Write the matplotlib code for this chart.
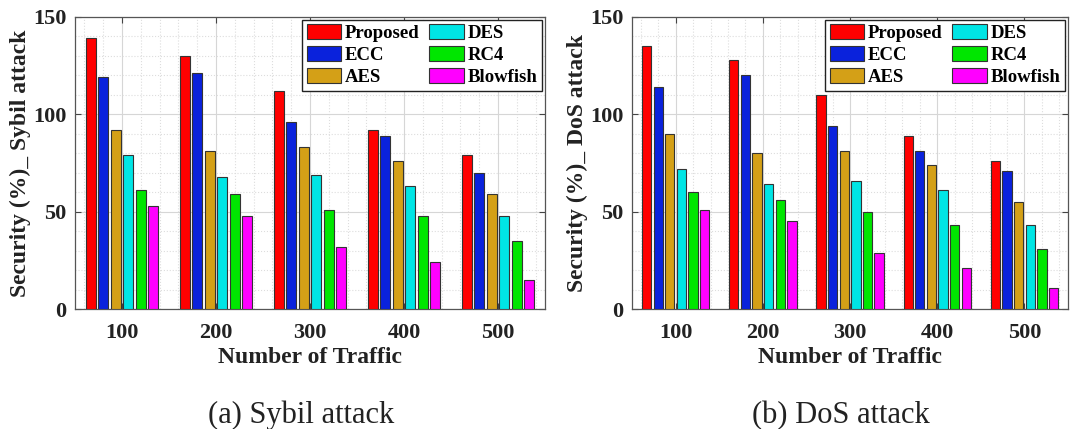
import numpy as np
import matplotlib
matplotlib.use('Agg')
import matplotlib.pyplot as plt
from matplotlib.ticker import MultipleLocator

plt.rcParams['font.family'] = ['Liberation Serif', 'DejaVu Serif']

traffic = [100, 200, 300, 400, 500]
methods = ['Proposed', 'ECC', 'AES', 'DES', 'RC4', 'Blowfish']
colors = ['#FF0000', '#0A22DC', '#D4A017', '#00E5E5', '#00E600', '#FF00FF']

# Sybil attack, one list per method
sybil_proposed = [139, 130, 112, 92, 79]
sybil_ecc = [119, 121, 96, 89, 70]
sybil_aes = [92, 81, 83, 76, 59]
sybil_des = [79, 68, 69, 63, 48]
sybil_rc4 = [61, 59, 51, 48, 35]
sybil_blowfish = [53, 48, 32, 24, 15]

# DoS attack
dos_proposed = [135, 128, 110, 89, 76]
dos_ecc = [114, 120, 94, 81, 71]
dos_aes = [90, 80, 81, 74, 55]
dos_des = [72, 64, 66, 61, 43]
dos_rc4 = [60, 56, 50, 43, 31]
dos_blowfish = [51, 45, 29, 21, 11]

sybil = [sybil_proposed, sybil_ecc, sybil_aes, sybil_des, sybil_rc4, sybil_blowfish]
dos = [dos_proposed, dos_ecc, dos_aes, dos_des, dos_rc4, dos_blowfish]

txt = '#222222'


def draw_panel(ax, series, ylabel, caption):
    x = np.array(traffic, dtype=float)
    pitch = 80 / len(methods)
    width = 0.8 * pitch
    for i, (vals, name, c) in enumerate(zip(series, methods, colors)):
        ax.bar(x + (i - 2.5) * pitch, vals, width, color=c, edgecolor='#333333',
               linewidth=0.8, label=name, zorder=3)
    ax.set_xlim(50, 550)
    ax.set_ylim(0, 150)
    ax.set_xticks(traffic)
    ax.set_yticks([0, 50, 100, 150])
    ax.xaxis.set_minor_locator(MultipleLocator(20))
    ax.yaxis.set_minor_locator(MultipleLocator(10))
    ax.grid(which='major', color='#d6d6d6', linewidth=0.8, zorder=0)
    ax.grid(which='minor', color='#dddddd', linestyle=':', linewidth=0.8, zorder=0)
    ax.tick_params(which='major', direction='in', top=True, right=True, length=4,
                   labelsize=16, colors='#444444', labelcolor=txt)
    ax.tick_params(axis='x', pad=10)
    ax.tick_params(axis='y', pad=6)
    ax.tick_params(which='minor', length=0)
    for lab in ax.get_xticklabels() + ax.get_yticklabels():
        lab.set_fontweight('bold')
    for s in ax.spines.values():
        s.set_color('#555555')
        s.set_linewidth(0.9)
    ax.set_xlabel('Number of Traffic', fontsize=17, fontweight='bold', color=txt, labelpad=3)
    ax.set_ylabel(ylabel, fontsize=17, fontweight='bold', color=txt, labelpad=2)
    leg = ax.legend(ncol=2, loc='upper right',
                    prop={'weight': 'bold', 'size': 13.5},
                    handlelength=1.85, handleheight=0.85, handletextpad=0.2,
                    columnspacing=0.5, labelspacing=0.2, borderpad=0.25,
                    borderaxespad=0.15, fancybox=False, framealpha=1)
    leg.get_frame().set_edgecolor('#222222')
    leg.get_frame().set_linewidth(1.0)
    ax.text(0.48, -0.365, caption, transform=ax.transAxes, ha='center', va='center',
            fontsize=22, color=txt)


fig = plt.figure(figsize=(10.83, 4.29), dpi=100)
ax1 = fig.add_axes([0.0693, 0.2797, 0.434, 0.6807])
ax2 = fig.add_axes([0.5836, 0.2797, 0.4026, 0.6807])

draw_panel(ax1, sybil, 'Security (%)_ Sybil attack', '(a) Sybil attack')
draw_panel(ax2, dos, 'Security (%)_ DoS attack', '(b) DoS attack')

fig.savefig('out.png', dpi=100)
